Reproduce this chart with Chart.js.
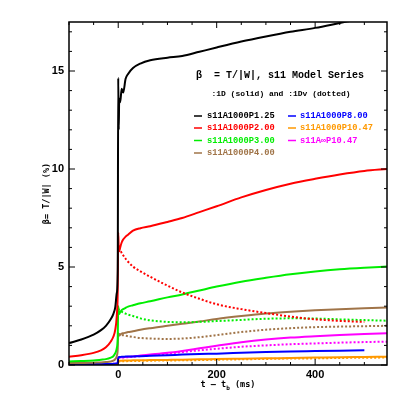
<!DOCTYPE html>
<html lang="en">
<head>
<meta charset="UTF-8">
<title>s11 Model Series - beta</title>
<script src="https://cdn.jsdelivr.net/npm/chart.js"></script>
<style>
  html, body { margin: 0; padding: 0; background: #fff; }
</style>
</head>
<body>
<canvas id="chart" width="409" height="409"></canvas>
<script>
// time relative to bounce (ms), shared by every curve
const tGrid = [-100, -75, -50, -35, -25, -15, -10, -6, -3, -1,
  0, 1, 2, 4, 7, 10, 15, 20, 30, 45, 65, 100, 130, 165, 200, 250, 300, 350, 400, 450, 500, 546];

// :1D runs (solid), beta in %
const p125 = [1.12, 1.3, 1.55, 1.78, 2.0, 2.35, 2.6, 2.95, 3.66, 4.85,
  14.65, 12.0, 13.6, 13.4, 14.1, 13.9, 14.6, 14.85, 15.15, 15.38, 15.55, 15.68, 15.76, 15.98, 16.2, 16.5, 16.76, 17.0, 17.2, 17.45, 17.7, 17.9];
const p200 = [0.42, 0.5, 0.62, 0.75, 0.9, 1.2, 1.44, 1.8, 2.5, 3.8,
  6.75, 6.0, 5.8, 6.0, 6.25, 6.4, 6.55, 6.65, 6.85, 6.98, 7.08, 7.3, 7.5, 7.8, 8.1, 8.55, 8.93, 9.25, 9.5, 9.72, 9.9, 10.0];
const p300 = [0.18, 0.2, 0.23, 0.27, 0.3, 0.38, 0.45, 0.6, 0.85, 1.4,
  3.0, 2.7, 2.6, 2.7, 2.8, 2.85, 2.92, 2.98, 3.05, 3.15, 3.25, 3.45, 3.6, 3.8, 4.0, 4.25, 4.45, 4.63, 4.77, 4.88, 4.96, 5.02];
const p400 = [0.1, 0.1, 0.12, 0.13, 0.15, 0.18, 0.22, 0.3, 0.45, 0.8,
  1.62, 1.5, 1.5, 1.55, 1.6, 1.62, 1.65, 1.68, 1.72, 1.8, 1.88, 2.0, 2.1, 2.22, 2.35, 2.5, 2.63, 2.72, 2.79, 2.85, 2.9, 2.94];
const p800 = [0.04, 0.04, 0.04, 0.05, 0.05, 0.05, 0.06, 0.07, 0.08, 0.1,
  0.4, 0.4, 0.41, 0.41, 0.42, 0.42, 0.43, 0.43, 0.44, 0.45, 0.47, 0.5, 0.53, 0.56, 0.58, 0.62, 0.66, 0.69, 0.71, 0.73, 0.75, null];
const p1047 = [0.02, 0.02, 0.02, 0.03, 0.03, 0.03, 0.03, 0.04, 0.05, 0.06,
  0.22, 0.22, 0.22, 0.22, 0.22, 0.23, 0.23, 0.23, 0.24, 0.24, 0.25, 0.26, 0.27, 0.29, 0.3, 0.32, 0.34, 0.36, 0.38, 0.4, 0.41, 0.42];
const pInf1047 = [0.05, 0.05, 0.05, 0.05, 0.05, 0.05, 0.06, 0.06, 0.07, 0.08,
  0.35, 0.38, 0.38, 0.39, 0.4, 0.4, 0.41, 0.42, 0.44, 0.48, 0.53, 0.62, 0.72, 0.85, 0.98, 1.16, 1.3, 1.4, 1.47, 1.53, 1.58, 1.62];

// :1Dv runs (dotted), only after bounce
const pre = [null, null, null, null, null, null, null, null, null, null];
const p200v = pre.concat([5.95, 5.93, 5.9, 5.85, 5.72, 5.6, 5.42, 5.27, 5.02, 4.78, 4.5, 4.05, 3.7, 3.38, 3.1, 2.85, 2.65, 2.47, 2.33, 2.25, 2.2, null]);
const p300v = pre.concat([2.85, 2.85, 2.8, 2.78, 2.72, 2.68, 2.62, 2.57, 2.5, 2.38, 2.28, 2.2, 2.18, 2.2, 2.24, 2.3, 2.36, 2.38, 2.37, 2.33, 2.29, 2.26]);
const p400v = pre.concat([1.6, 1.6, 1.58, 1.56, 1.54, 1.52, 1.49, 1.47, 1.43, 1.38, 1.35, 1.33, 1.35, 1.42, 1.52, 1.68, 1.8, 1.88, 1.93, 1.96, 1.98, 2.0]);
const p1047v = pre.concat([0.18, 0.18, 0.18, 0.18, 0.19, 0.19, 0.19, 0.2, 0.2, 0.21, 0.22, 0.23, 0.24, 0.25, 0.27, 0.29, 0.31, 0.33, 0.34, 0.36, 0.37, 0.38]);
const pInf1047v = pre.concat([0.35, 0.36, 0.36, 0.37, 0.38, 0.38, 0.39, 0.4, 0.42, 0.45, 0.5, 0.58, 0.66, 0.75, 0.83, 0.93, 1.0, 1.06, 1.1, 1.14, 1.17, 1.19]);

const modelNames = ['s11A1000P1.25', 's11A1000P2.00', 's11A1000P3.00', 's11A1000P4.00',
  's11A1000P8.00', 's11A1000P10.47', 's11A\u221EP10.47'];
const modelColors = ['#000000', '#ff0000', '#00ee00', '#a07448', '#0000ff', '#ff9900', '#ff00ff'];
const solidSeries = [p125, p200, p300, p400, p800, p1047, pInf1047];
const dottedSeries = [null, p200v, p300v, p400v, null, p1047v, pInf1047v];

const xTickLabels = [0, 200, 400];
const yTickLabels = [0, 5, 10, 15];

function points(arr) {
  return tGrid.map((t, i) => ({ x: t, y: arr[i] }));
}

const datasets = [];
modelNames.forEach((name, i) => {
  if (dottedSeries[i]) {
    datasets.push({
      label: name + ' :1Dv',
      data: points(dottedSeries[i]),
      borderColor: modelColors[i],
      borderWidth: 2,
      borderDash: [2, 2],
      pointRadius: 0,
      cubicInterpolationMode: 'monotone',
      spanGaps: false
    });
  }
  datasets.push({
    label: name,
    data: points(solidSeries[i]),
    borderColor: modelColors[i],
    borderWidth: 2,
    pointRadius: 0,
    cubicInterpolationMode: 'monotone',
    spanGaps: false
  });
});

// frame, inward ticks, axis titles, text block and legend
const decorations = {
  id: 'decorations',
  afterDatasetsDraw(chart) {
    const { ctx, chartArea: a, scales: { x, y } } = chart;
    ctx.save();
    ctx.strokeStyle = '#000';
    ctx.lineWidth = 1.5;
    ctx.strokeRect(a.left, a.top, a.right - a.left, a.bottom - a.top);

    ctx.lineWidth = 1;
    ctx.beginPath();
    for (let t = -100; t <= 546; t += 50) {
      const px = x.getPixelForValue(t);
      const len = xTickLabels.includes(t) ? 6 : 3;
      ctx.moveTo(px, a.bottom); ctx.lineTo(px, a.bottom - len);
      ctx.moveTo(px, a.top); ctx.lineTo(px, a.top + len);
    }
    for (let v = 0; v <= 17; v += 1) {
      const py = y.getPixelForValue(v);
      const len = yTickLabels.includes(v) ? 6 : 3;
      ctx.moveTo(a.left, py); ctx.lineTo(a.left + len, py);
      ctx.moveTo(a.right, py); ctx.lineTo(a.right - len, py);
    }
    ctx.stroke();

    ctx.fillStyle = '#000';
    ctx.textBaseline = 'middle';

    // x axis title with subscript b
    ctx.font = 'bold 8.5px "DejaVu Sans Mono"';
    const p1 = 't \u2013 t', p3 = ' (ms)';
    const w1 = ctx.measureText(p1).width, w3 = ctx.measureText(p3).width;
    ctx.font = 'bold 6px "DejaVu Sans Mono"';
    const w2 = ctx.measureText('b').width;
    let sx = (a.left + a.right) / 2 - (w1 + w2 + w3) / 2;
    ctx.textAlign = 'left';
    ctx.font = 'bold 8.5px "DejaVu Sans Mono"';
    ctx.fillText(p1, sx, 385);
    ctx.font = 'bold 6px "DejaVu Sans Mono"';
    ctx.fillText('b', sx + w1, 388);
    ctx.font = 'bold 8.5px "DejaVu Sans Mono"';
    ctx.fillText(p3, sx + w1 + w2, 385);

    // y axis title
    ctx.save();
    ctx.translate(47, (a.top + a.bottom) / 2);
    ctx.rotate(-Math.PI / 2);
    ctx.textAlign = 'center';
    ctx.fillText('\u03B2= T/|W| (%)', 0, 0);
    ctx.restore();

    // heading inside the plot
    ctx.textAlign = 'center';
    ctx.font = 'bold 10px "Liberation Mono"';
    ctx.fillText('\u03B2  = T/|W|, s11 Model Series', 280, 75);
    ctx.font = 'bold 8px "Liberation Mono"';
    ctx.fillText(':1D (solid) and :1Dv (dotted)', 281, 94);

    // legend, two columns
    const cols = [{ lx: 194, tx: 207 }, { lx: 288, tx: 300 }];
    const rows = [116, 128, 140.5, 153];
    ctx.font = 'bold 8.7px "Liberation Mono"';
    ctx.textAlign = 'left';
    modelNames.forEach((name, i) => {
      const c = cols[i < 4 ? 0 : 1];
      const ry = rows[i < 4 ? i : i - 4];
      ctx.strokeStyle = modelColors[i];
      ctx.lineWidth = 1.5;
      ctx.beginPath();
      ctx.moveTo(c.lx, ry); ctx.lineTo(c.lx + 8, ry);
      ctx.stroke();
      ctx.fillStyle = modelColors[i];
      ctx.fillText(name, c.tx, ry);
    });
    ctx.restore();
  }
};

new Chart(document.getElementById('chart'), {
  type: 'line',
  data: { datasets: datasets },
  options: {
    responsive: false,
    animation: false,
    layout: { padding: { top: 22, right: 22, left: 0, bottom: 0 } },
    plugins: { legend: { display: false }, tooltip: { enabled: false } },
    scales: {
      x: {
        type: 'linear',
        min: -100,
        max: 546,
        afterFit: s => { s.height = 44; },
        grid: { display: false, drawTicks: false },
        border: { display: false },
        ticks: {
          stepSize: 50,
          autoSkip: false,
          maxRotation: 0,
          padding: 3,
          color: '#000',
          font: { family: 'Liberation Sans', weight: 'bold', size: 11 },
          callback: v => xTickLabels.includes(v) ? String(v) : ''
        }
      },
      y: {
        min: 0,
        max: 17.5,
        afterFit: s => { s.width = 69; },
        grid: { display: false, drawTicks: false },
        border: { display: false },
        ticks: {
          stepSize: 1,
          autoSkip: false,
          padding: 5,
          color: '#000',
          font: { family: 'Liberation Sans', weight: 'bold', size: 11 },
          callback: v => yTickLabels.includes(v) ? String(v) : ''
        }
      }
    }
  },
  plugins: [decorations]
});
</script>
</body>
</html>
